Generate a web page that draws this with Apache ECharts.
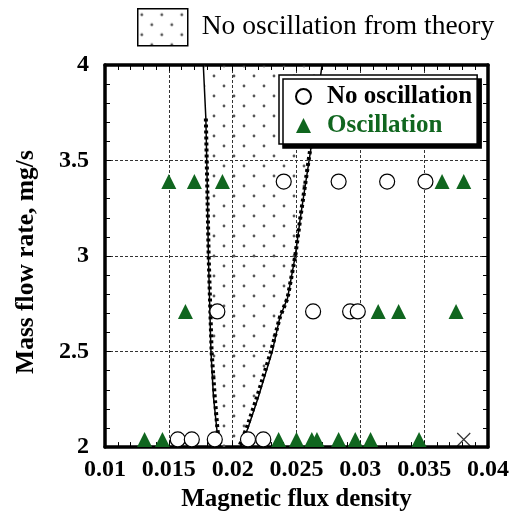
<!DOCTYPE html>
<html>
<head>
<meta charset="utf-8">
<script src="https://cdn.jsdelivr.net/npm/echarts@6/dist/echarts.min.js"></script>
<style>
  html, body { margin: 0; padding: 0; background: #fff; }
  #chart { width: 512px; height: 517px; }
</style>
</head>
<body>
<div id="chart"></div>
<script>
// Measured points: [magnetic flux density, mass flow rate (mg/s)]
const noOscillation = [
  [0.0240, 3.39], [0.0283, 3.39], [0.0321, 3.39], [0.0351, 3.39],
  [0.0188, 2.71], [0.0263, 2.71], [0.0292, 2.71], [0.0298, 2.71],
  [0.0157, 2.04], [0.0168, 2.04], [0.0186, 2.04], [0.0212, 2.04], [0.0224, 2.04]
];
const oscillation = [
  [0.0150, 3.39], [0.0170, 3.39], [0.0192, 3.39], [0.0364, 3.39], [0.0381, 3.39],
  [0.0163, 2.71], [0.0314, 2.71], [0.0330, 2.71], [0.0375, 2.71],
  [0.0131, 2.04], [0.0145, 2.04], [0.0236, 2.04], [0.0250, 2.04], [0.0262, 2.04],
  [0.0266, 2.04], [0.0283, 2.04], [0.0296, 2.04], [0.0308, 2.04], [0.0346, 2.04]
];
const unclassified = [[0.0381, 2.04]];

// Theoretical limits of the no-oscillation band, listed from top to bottom
const theoryLower = [
  [0.0177, 4.0], [0.0179, 3.72], [0.0180, 3.4], [0.0181, 3.0],
  [0.0183, 2.5], [0.0185, 2.26], [0.01875, 2.1], [0.0189, 2.0]
];
const theoryUpper = [
  [0.0270, 4.0], [0.0261, 3.55], [0.0253, 3.2], [0.0249, 3.0], [0.0243, 2.78],
  [0.0237, 2.68], [0.0231, 2.5], [0.0220, 2.26], [0.0212, 2.1], [0.0206, 2.0]
];
// Second model of the same limits (dashed)
const modelLower = [
  [0.0179, 3.72], [0.0180, 3.4], [0.01812, 3.0], [0.01835, 2.5],
  [0.0186, 2.26], [0.0188, 2.1], [0.01895, 2.0]
];
const modelUpper = [
  [0.02612, 3.58], [0.0253, 3.2], [0.0249, 3.0], [0.0243, 2.78],
  [0.0237, 2.68], [0.0230, 2.5], [0.0219, 2.26], [0.0211, 2.1], [0.0205, 2.0]
];

const xTickLabels = ['0.01', '0.015', '0.02', '0.025', '0.03', '0.035', '0.04'];
const yTickLabels = ['2', '2.5', '3', '3.5', '4'];

const FONT = '"Liberation Serif", "Times New Roman", serif';
const GREEN = '#10661f';

// Dotted fill used for the theoretical band
const tile = document.createElement('canvas');
tile.width = 20; tile.height = 20;
(function () {
  const c = tile.getContext('2d');
  c.fillStyle = '#555';
  c.beginPath(); c.arc(14, 16, 1.4, 0, Math.PI * 2); c.fill();
  c.beginPath(); c.arc(4, 6, 1.4, 0, Math.PI * 2); c.fill();
})();
const dotPattern = { image: tile, repeat: 'repeat' };

const chart = echarts.init(document.getElementById('chart'), null, { renderer: 'canvas' });

const axisLineStyle = { color: '#000', width: 3.5 };
const tickStyle = { color: '#000', width: 1 };

function xAxisBase(pos) {
  return {
    type: 'value', min: 0.01, max: 0.04, interval: 0.005, position: pos,
    axisLine: { show: true, onZero: false, lineStyle: axisLineStyle },
    axisTick: { show: true, inside: true, length: 6, lineStyle: tickStyle },
    minorTick: { show: true, splitNumber: 5, length: 5, lineStyle: tickStyle },
    minorSplitLine: { show: false }
  };
}
function yAxisBase(pos) {
  return {
    type: 'value', min: 2, max: 4, interval: 0.5, position: pos,
    axisLine: { show: true, onZero: false, lineStyle: axisLineStyle },
    axisTick: { show: true, inside: true, length: 6, lineStyle: tickStyle },
    minorTick: { show: true, splitNumber: 5, length: 5, lineStyle: tickStyle },
    minorSplitLine: { show: false }
  };
}

const option = {
  animation: false,
  backgroundColor: '#fff',
  grid: { left: 105, right: 24, top: 65, bottom: 67 },
  legend: [
    {
      data: [{
        name: 'No oscillation from theory', icon: 'rect',
        itemStyle: { color: dotPattern, borderColor: '#000', borderWidth: 1.5 }
      }],
      left: 137, top: 8, padding: 0,
      itemWidth: 50, itemHeight: 37,
      selectedMode: false,
      textStyle: { fontFamily: FONT, fontSize: 27.5, color: '#000', padding: [0, 0, 0, 9] }
    },
    {
      data: [
        { name: 'No oscillation', textStyle: { color: '#000' } },
        { name: 'Oscillation', textStyle: { color: GREEN } }
      ],
      orient: 'vertical', left: 279, top: 75,
      padding: [9, 5, 6, 16], itemGap: 4,
      itemWidth: 15, itemHeight: 15,
      backgroundColor: '#fff', borderColor: '#000', borderWidth: 1.5,
      shadowColor: '#000', shadowBlur: 0, shadowOffsetX: 4, shadowOffsetY: 4,
      selectedMode: false,
      textStyle: {
        fontFamily: FONT, fontSize: 25, fontWeight: 'bold', color: '#000',
        padding: [0, 0, 0, 11]
      }
    }
  ],
  xAxis: [
    Object.assign(xAxisBase('bottom'), {
      splitLine: { show: true, lineStyle: { type: [3, 2], color: '#333', width: 1 } },
      axisLabel: {
        margin: 11, color: '#000', fontFamily: FONT, fontSize: 24, fontWeight: 'bold',
        formatter: v => xTickLabels[Math.round((v - 0.01) / 0.005)]
      },
      name: 'Magnetic flux density', nameLocation: 'middle', nameGap: 38,
      nameTextStyle: { color: '#000', fontFamily: FONT, fontSize: 25, fontWeight: 'bold' }
    }),
    Object.assign(xAxisBase('top'), {
      splitLine: { show: false }, axisLabel: { show: false }
    })
  ],
  yAxis: [
    Object.assign(yAxisBase('left'), {
      splitLine: { show: true, lineStyle: { type: [3, 2], color: '#333', width: 1 } },
      axisLabel: {
        margin: 16, color: '#000', fontFamily: FONT, fontSize: 24, fontWeight: 'bold',
        formatter: v => yTickLabels[Math.round((v - 2) / 0.5)]
      },
      name: 'Mass flow rate, mg/s', nameLocation: 'middle', nameGap: 66,
      nameTextStyle: { color: '#000', fontFamily: FONT, fontSize: 25.5, fontWeight: 'bold', padding: [0, 12, 0, 0] }
    }),
    Object.assign(yAxisBase('right'), {
      splitLine: { show: false }, axisLabel: { show: false }
    })
  ],
  series: [
    {
      name: 'No oscillation from theory',
      type: 'custom', z: 1,
      itemStyle: { color: dotPattern },
      data: [[0.022, 3]],
      renderItem: function (params, api) {
        const pts = theoryLower.map(p => api.coord(p))
          .concat(theoryUpper.slice().reverse().map(p => api.coord(p)));
        return { type: 'polygon', shape: { points: pts }, style: { fill: dotPattern, stroke: null } };
      }
    },
    {
      name: 'Theory limit', type: 'line', z: 2, symbol: 'none',
      data: theoryLower.slice().reverse().concat(theoryUpper),
      lineStyle: { color: '#000', width: 1.5 }
    },
    {
      name: 'Model lower', type: 'line', z: 2, symbol: 'none',
      data: modelLower,
      lineStyle: { color: '#000', width: 4, type: [3, 3], cap: 'butt' }
    },
    {
      name: 'Model upper', type: 'line', z: 2, symbol: 'none',
      data: modelUpper,
      lineStyle: { color: '#000', width: 4, type: [3, 3], cap: 'butt' }
    },
    {
      name: 'No oscillation', type: 'scatter', z: 3,
      symbol: 'circle', symbolSize: 15,
      itemStyle: { color: '#fff', borderColor: '#000', borderWidth: 1.2, opacity: 1 },
      data: noOscillation
    },
    {
      name: 'Oscillation', type: 'scatter', z: 3,
      symbol: 'triangle', symbolSize: 15,
      itemStyle: { color: GREEN, opacity: 1 },
      data: oscillation
    },
    {
      name: 'Unclassified', type: 'scatter', z: 3,
      symbol: 'path://M0,0L10,10M10,0L0,10', symbolSize: 13,
      itemStyle: { color: 'none', borderColor: '#000', borderWidth: 1.2 },
      data: unclassified
    }
  ]
};

chart.setOption(option);
</script>
</body>
</html>
